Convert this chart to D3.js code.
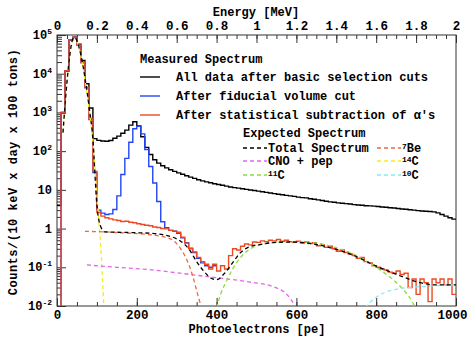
<!DOCTYPE html>
<meta charset="utf-8">
<style>
body { margin: 0; background: #fff; }
text { font-family: "Liberation Mono", "DejaVu Sans Mono", monospace; font-weight: bold; font-size: 12px; fill: #000; }
.axis path, .axis line { stroke: #333; stroke-width: 1px; }
</style>
<svg width="468" height="341"></svg>
<script src="https://d3js.org/d3.v7.min.js"></script>
<script>
// histogram data, 10 pe per bin, starting at 0 pe
var binWidth = 10;

var allData = [4, 1000, 12000, 75000, 88000, 58000, 22000, 5500, 1300, 210,
  190, 182, 180, 188, 215, 245, 290, 350, 470, 575,
  450, 235, 125, 82, 60, 49, 42, 37, 33, 30,
  27.5, 25.3, 23.2, 21.3, 19.8, 18.3, 17.1, 16.1, 15.2, 14.4,
  13.7, 13.1, 12.5, 11.9, 11.4, 11.1, 10.7, 10.3, 9.9, 9.6,
  9.3, 8.9, 8.6, 8.3, 8.0, 7.7, 7.5, 7.2, 7.0, 6.8,
  6.5, 6.3, 6.2, 5.9, 5.7, 5.5, 5.3, 5.1, 4.9, 4.8,
  4.6, 4.5, 4.4, 4.3, 4.15, 4.05, 4.0, 3.9, 3.85, 3.8,
  3.7, 3.6, 3.55, 3.45, 3.4, 3.3, 3.2, 3.15, 3.05, 3.0,
  2.9, 2.85, 2.8, 2.75, 2.7, 2.55, 2.3, 2.1, 1.9, 1.75];

var fiducial = [0.005, 950, 11500, 73000, 86000, 54000, 19000, 4300, 650, 28,
  3.0, 2.5, 2.3, 2.4, 3.1, 7, 25, 65, 170, 380,
  440, 280, 110, 40, 15, 5, 1.5, 1.05, 0.9, 0.85,
  0.75, 0.58, 0.43, 0.31, 0.24, 0.17, 0.13, 0.11, 0.1, 0.11];

var alphaSub = [0.005, 1000, 12000, 75000, 88000, 55000, 20000, 4500, 700, 30,
  2.6, 2.1, 1.9, 1.78, 1.68, 1.62, 1.52, 1.55, 1.45, 1.42,
  1.33, 1.27, 1.22, 1.18, 1.1, 1.07, 1.0, 0.98, 0.9, 0.86,
  0.8, 0.6, 0.42, 0.3, 0.25, 0.18, 0.14, 0.12, 0.09, 0.12,
  0.08, 0.11, 0.09, 0.2, 0.3, 0.28, 0.35, 0.4, 0.38, 0.45,
  0.44, 0.48, 0.46, 0.5, 0.48, 0.52, 0.47, 0.5, 0.46, 0.44,
  0.47, 0.42, 0.45, 0.41, 0.43, 0.36, 0.38, 0.33, 0.35, 0.3,
  0.26, 0.28, 0.24, 0.22, 0.2, 0.17, 0.18, 0.14, 0.13, 0.11,
  0.1, 0.09, 0.085, 0.075, 0.07, 0.08, 0.065, 0.07, 0.03, 0.05,
  0.02, 0.05, 0.04, 0.013, 0.05, 0.04, 0.05, 0.035, 0.05, 0.02];

// expected spectra (pe, counts)
var totalPe  = [15, 20, 30, 40, 45, 50, 60, 70, 80, 90, 100, 110, 120, 160, 200, 240, 270, 290, 310, 330, 350, 370, 390, 400, 420, 440, 460, 480, 510, 550, 590, 630, 670, 710, 750, 790, 830, 870, 910, 950, 1000];
var totalVal = [300, 1500, 20000, 80000, 86000, 70000, 30000, 8000, 1500, 200, 4, 1.1, 0.82, 0.8, 0.78, 0.75, 0.68, 0.6, 0.47, 0.3, 0.14, 0.075, 0.05, 0.048, 0.07, 0.13, 0.24, 0.33, 0.39, 0.44, 0.45, 0.42, 0.35, 0.27, 0.19, 0.12, 0.08, 0.055, 0.04, 0.035, 0.035];

var be7Pe  = [70, 120, 160, 200, 240, 270, 290, 310, 330, 340, 350, 360, 366];
var be7Val = [0.85, 0.82, 0.78, 0.74, 0.68, 0.6, 0.5, 0.3, 0.12, 0.06, 0.025, 0.011, 0.008];

var cnoPe  = [75, 150, 230, 330, 385, 480, 540, 580, 600];
var cnoVal = [0.115, 0.1, 0.087, 0.066, 0.056, 0.042, 0.032, 0.018, 0.009];

var c14Pe  = [15, 20, 30, 40, 50, 60, 70, 80, 90, 100, 105, 110, 115, 118];
var c14Val = [300, 1500, 18000, 75000, 65000, 28000, 7000, 1300, 170, 8, 1.5, 0.3, 0.03, 0.008];

var c11Pe  = [400, 410, 425, 440, 460, 480, 510, 550, 600, 650, 700, 750, 800, 840, 870, 890, 900];
var c11Val = [0.009, 0.02, 0.045, 0.09, 0.18, 0.28, 0.38, 0.44, 0.46, 0.42, 0.32, 0.2, 0.1, 0.05, 0.025, 0.013, 0.008];

var c10Pe  = [772, 790, 820, 850, 880, 920, 960, 1000];
var c10Val = [0.009, 0.014, 0.022, 0.027, 0.03, 0.032, 0.034, 0.035];

var energyTicks = [0, 0.2, 0.4, 0.6, 0.8, 1, 1.2, 1.4, 1.6, 1.8, 2];
var peTicks = [0, 200, 400, 600, 800, 1000];
var decades = [0.01, 0.1, 1, 10, 100, 1000, 10000, 100000];

var svg = d3.select("svg");
var x0 = 57, x1 = 456, y0 = 35, y1 = 306;

var x = d3.scaleLinear().domain([0, 1000]).range([x0, x1]);
var xE = d3.scaleLinear().domain([0, 2]).range([x0, x1]);
var y = d3.scaleLog().domain([0.01, 1e5]).range([y1, y0]);

svg.append("clipPath").attr("id", "clip")
  .append("rect").attr("x", x0).attr("y", y0).attr("width", x1 - x0).attr("height", y1 - y0);

// frame
svg.append("rect").attr("x", x0).attr("y", y0).attr("width", x1 - x0).attr("height", y1 - y0)
  .attr("fill", "none").attr("stroke", "#333");

// bottom axis
svg.append("g").attr("class", "axis").attr("transform", "translate(0," + y1 + ")")
  .call(d3.axisBottom(x).tickValues(d3.range(0, 1001, 50)).tickSize(-4).tickFormat(""))
  .call(g => g.select(".domain").remove());
svg.append("g").attr("class", "axis").attr("transform", "translate(0," + y1 + ")")
  .call(d3.axisBottom(x).tickValues(peTicks).tickSizeInner(-8).tickSizeOuter(0).tickPadding(4).tickFormat(d3.format("d")))
  .call(g => g.select(".domain").remove())
  .call(g => g.selectAll("text").style("font-size", "12.5px"))
  .call(g => g.selectAll(".tick:last-of-type text").attr("text-anchor", "end").attr("dx", 11));

// top axis
svg.append("g").attr("class", "axis").attr("transform", "translate(0," + y0 + ")")
  .call(d3.axisTop(xE).tickValues(d3.range(0, 2.001, 0.05)).tickSize(-4).tickFormat(""))
  .call(g => g.select(".domain").remove());
svg.append("g").attr("class", "axis").attr("transform", "translate(0," + y0 + ")")
  .call(d3.axisTop(xE).tickValues(energyTicks).tickSizeInner(-8).tickSizeOuter(0).tickPadding(5).tickFormat(d3.format("~g")))
  .call(g => g.select(".domain").remove())
  .call(g => g.selectAll("text").style("font-size", "12.5px"));

// left axis
var minor = [];
decades.slice(0, -1).forEach(function(d) { for (var k = 2; k < 10; k++) minor.push(d * k); });
svg.append("g").attr("class", "axis").attr("transform", "translate(" + x0 + ",0)")
  .call(d3.axisLeft(y).tickValues(minor).tickSize(-5).tickFormat(""))
  .call(g => g.select(".domain").remove());
svg.append("g").attr("class", "axis").attr("transform", "translate(" + x0 + ",0)")
  .call(d3.axisLeft(y).tickValues(decades).tickSize(-9).tickFormat(""))
  .call(g => g.select(".domain").remove());

var ylab = svg.append("g").selectAll("text").data(decades).enter().append("text")
  .attr("x", 52).attr("y", d => y(d) + 4).attr("text-anchor", "end");
ylab.each(function(d) {
  var t = d3.select(this), e = Math.round(Math.log10(d));
  if (e === 0) { t.text("1"); return; }
  if (e === 1) { t.text("10"); return; }
  t.append("tspan").text("10");
  t.append("tspan").attr("dy", -5).style("font-size", "8px").text(e);
});

// axis titles
svg.append("text").attr("x", 256).attr("y", 16).attr("text-anchor", "middle").text("Energy [MeV]");
svg.append("text").attr("x", 257).attr("y", 333).attr("text-anchor", "middle").text("Photoelectrons [pe]");
svg.append("text").attr("transform", "translate(17,172) rotate(-90)").attr("text-anchor", "middle")
  .style("letter-spacing", "0.5px")
  .text("Counts/(10 keV x day x 100 tons)");

// plot content
var plot = svg.append("g").attr("clip-path", "url(#clip)");

function histPath(vals) {
  var pts = vals.map((v, i) => [i * binWidth, v]);
  pts.push([vals.length * binWidth, vals[vals.length - 1]]);
  return d3.line().x(d => x(d[0])).y(d => y(Math.max(d[1], 1e-3))).curve(d3.curveStepAfter)(pts);
}
function curvePath(pe, vals) {
  return d3.line().x(d => x(d[0])).y(d => y(d[1])).curve(d3.curveMonotoneX)(pe.map((p, i) => [p, vals[i]]));
}

plot.append("path").attr("d", histPath(allData)).attr("fill", "none").attr("stroke", "#000").attr("stroke-width", 1.4);
plot.append("path").attr("d", histPath(fiducial)).attr("fill", "none").attr("stroke", "#2346f5").attr("stroke-width", 1.4);
plot.append("path").attr("d", histPath(alphaSub)).attr("fill", "none").attr("stroke", "#ec4a26").attr("stroke-width", 1.4);

var expected = [
  {pe: c14Pe, v: c14Val, color: "#f2ee22"},
  {pe: cnoPe, v: cnoVal, color: "#e467e8"},
  {pe: be7Pe, v: be7Val, color: "#ec6a3e"},
  {pe: c11Pe, v: c11Val, color: "#8cdc3c"},
  {pe: c10Pe, v: c10Val, color: "#86eaf2"},
  {pe: totalPe, v: totalVal, color: "#000"}
];
expected.forEach(function(s) {
  plot.append("path").attr("d", curvePath(s.pe, s.v)).attr("fill", "none")
    .attr("stroke", s.color).attr("stroke-width", 1.3).attr("stroke-dasharray", "4,3");
});

// legend: measured
var leg = svg.append("g");
leg.append("text").attr("x", 140).attr("y", 63).text("Measured Spectrum");
var meas = [
  {label: "All data after basic selection cuts", color: "#000", yy: 77},
  {label: "After fiducial volume cut", color: "#2346f5", yy: 96},
  {label: "After statistical subtraction of \u03b1's", color: "#ec4a26", yy: 115}
];
meas.forEach(function(m) {
  leg.append("line").attr("x1", 140).attr("x2", 160).attr("y1", m.yy).attr("y2", m.yy)
    .attr("stroke", m.color).attr("stroke-width", 1.4);
  leg.append("text").attr("x", 176).attr("y", m.yy + 4).text(m.label);
});

// legend: expected
leg.append("text").attr("x", 243).attr("y", 137).text("Expected Spectrum");
var expLeg = [
  {label: "Total Spectrum", color: "#000", lx: 243, yy: 148},
  {label: "CNO + pep", color: "#e467e8", lx: 243, yy: 161},
  {sup: "11", label: "C", color: "#8cdc3c", lx: 243, yy: 175},
  {sup: "7", label: "Be", color: "#ec6a3e", lx: 377, yy: 148},
  {sup: "14", label: "C", color: "#f2ee22", lx: 377, yy: 161},
  {sup: "10", label: "C", color: "#86eaf2", lx: 377, yy: 175}
];
expLeg.forEach(function(m) {
  leg.append("line").attr("x1", m.lx).attr("x2", m.lx + 24).attr("y1", m.yy).attr("y2", m.yy)
    .attr("stroke", m.color).attr("stroke-width", 1.3).attr("stroke-dasharray", "4,3");
  var t = leg.append("text").attr("x", m.lx + 25).attr("y", m.yy + 4);
  if (m.sup) {
    t.append("tspan").attr("dy", -3).style("font-size", "8px").text(m.sup);
    t.append("tspan").attr("dy", 3).text(m.label);
  } else {
    t.text(m.label);
  }
});
</script>
